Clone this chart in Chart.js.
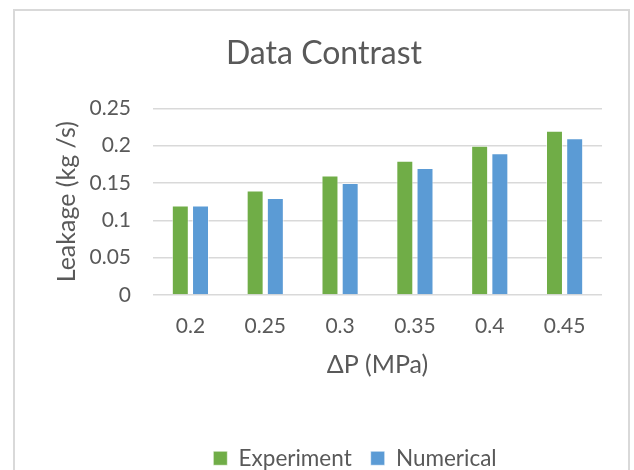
<!DOCTYPE html>
<html>
<head>
<meta charset="utf-8">
<script src="https://cdn.jsdelivr.net/npm/chart.js@4/dist/chart.umd.min.js"></script>
<style>
  html, body { margin: 0; padding: 0; background: #fff; }
  #wrap { width: 634px; height: 470px; position: relative; }
</style>
</head>
<body>
<div id="wrap"><canvas id="c" width="634" height="470"></canvas></div>
<script>
// Pressure differences (MPa) on the category axis
const categories = ['0.2', '0.25', '0.3', '0.35', '0.4', '0.45'];
// Measured leakage (kg/s)
const experiment = [0.12, 0.14, 0.16, 0.18, 0.20, 0.22];
// Simulated leakage (kg/s)
const numerical = [0.12, 0.13, 0.15, 0.17, 0.19, 0.21];
// Labels for the leakage axis
const yTickLabels = ['0', '0.05', '0.1', '0.15', '0.2', '0.25'];

const TEXT = '#595959';
const FONT = 'Lato, "Open Sans", sans-serif';

// White background and the light frame around the chart
const framePlugin = {
  id: 'frame',
  beforeDraw(chart) {
    const ctx = chart.ctx;
    ctx.save();
    ctx.fillStyle = '#ffffff';
    ctx.fillRect(0, 0, chart.width, chart.height);
    ctx.strokeStyle = '#d9d9d9';
    ctx.lineWidth = 2;
    ctx.strokeRect(14, 10, 615, chart.height + 20);
    ctx.restore();
  }
};

// Center the title and legend on the whole frame rather than the layout box
const centerPlugin = {
  id: 'centerBlocks',
  afterUpdate(chart) {
    if (chart.titleBlock) { chart.titleBlock.left += 8; chart.titleBlock.right += 8; }
    if (chart.legend) { chart.legend.left += 39; chart.legend.right += 39; }
  }
};

new Chart(document.getElementById('c'), {
  type: 'bar',
  data: {
    labels: categories,
    datasets: [
      {
        label: 'Experiment',
        data: experiment,
        backgroundColor: '#70AD47',
        borderColor: 'rgba(255,255,255,0.55)',
        borderWidth: 1,
        categoryPercentage: 0.54,
        barPercentage: 0.84
      },
      {
        label: 'Numerical',
        data: numerical,
        backgroundColor: '#5B9BD5',
        borderColor: 'rgba(255,255,255,0.55)',
        borderWidth: 1,
        categoryPercentage: 0.54,
        barPercentage: 0.84
      }
    ]
  },
  options: {
    responsive: false,
    animation: false,
    devicePixelRatio: 1,
    layout: { padding: { left: 30, right: 32, top: 10, bottom: 0 } },
    plugins: {
      title: {
        display: true,
        text: 'Data Contrast',
        color: TEXT,
        font: { family: FONT, size: 32, weight: 'normal' },
        padding: { top: 24, bottom: 36 }
      },
      legend: {
        display: true,
        position: 'bottom',
        maxHeight: 42,
        labels: {
          color: TEXT,
          font: { family: FONT, size: 22.5 },
          boxWidth: 14,
          boxHeight: 14,
          padding: 19
        }
      },
      tooltip: { enabled: false }
    },
    scales: {
      x: {
        grid: { display: false, drawTicks: false },
        border: { display: false },
        ticks: {
          color: TEXT,
          font: { family: FONT, size: 21 },
          padding: 19
        },
        title: {
          display: true,
          text: 'ΔP (MPa)',
          color: TEXT,
          font: { family: FONT, size: 25 },
          padding: { top: 4, bottom: 48 }
        },
        afterFit(scale) { scale.height = 133; }
      },
      y: {
        min: 0,
        max: 0.25,
        grid: { color: '#d9d9d9', lineWidth: 1.5, drawTicks: false },
        border: { display: false },
        ticks: {
          stepSize: 0.05,
          color: TEXT,
          font: { family: FONT, size: 21 },
          padding: 22,
          callback: (v, i) => yTickLabels[i]
        },
        title: {
          display: true,
          text: 'Leakage (kg /s)',
          color: TEXT,
          font: { family: FONT, size: 25 },
          padding: { top: 22, bottom: 0 }
        },
        afterFit(scale) { scale.width = 123; }
      }
    }
  },
  plugins: [framePlugin, centerPlugin]
});
</script>
</body>
</html>
